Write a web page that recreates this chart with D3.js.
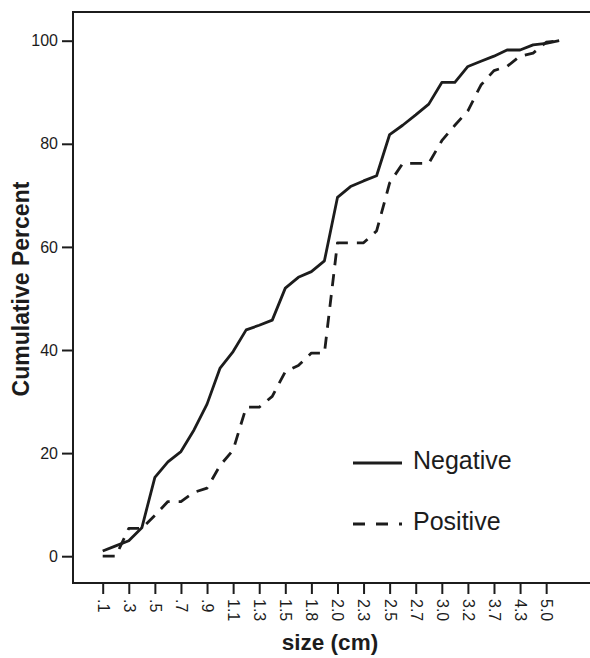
<!DOCTYPE html>
<html>
<head>
<meta charset="utf-8">
<script src="https://cdn.jsdelivr.net/npm/d3@7"></script>
<style>
  body { margin: 0; background: #fff; }
  svg { display: block; font-family: "Liberation Sans", Arial, sans-serif; }
</style>
</head>
<body>
<div id="chart"></div>
<script>
// lesion sizes (cm), one point per size; every other one is labelled
var sizes = [".1", ".2", ".3", ".4", ".5", ".6", ".7", ".8", ".9", "1.0",
  "1.1", "1.2", "1.3", "1.4", "1.5", "1.6", "1.8", "1.9", "2.0", "2.2",
  "2.3", "2.4", "2.5", "2.6", "2.7", "2.8", "3.0", "3.1", "3.2", "3.5",
  "3.7", "4.0", "4.3", "4.5", "5.0", "5.5"];
var tickLabels = [".1", ".3", ".5", ".7", ".9", "1.1", "1.3", "1.5", "1.8", "2.0",
  "2.3", "2.5", "2.7", "3.0", "3.2", "3.7", "4.3", "5.0"];
var yTicks = [0, 20, 40, 60, 80, 100];

var negative = [1, 2, 3, 5.5, 15.3, 18.3, 20.3, 24.5, 29.5, 36.5,
  39.7, 43.9, 44.8, 45.8, 52, 54.1, 55.2, 57.3, 69.6, 71.7,
  72.8, 73.8, 81.8, 83.6, 85.6, 87.7, 91.9, 91.9, 95, 96,
  97, 98.2, 98.2, 99.2, 99.5, 100];
var positive = [0, 0, 5.4, 5.4, 7.9, 10.6, 10.6, 12.4, 13.2, 17.6,
  20.6, 28.9, 28.9, 31, 35.8, 37, 39.4, 39.4, 60.8, 60.8,
  60.8, 63.1, 72.4, 76.2, 76.2, 76.2, 80.6, 83.6, 86.4, 91.4,
  94.2, 95, 97, 97.6, 99.7, 100];

var width = 590, height = 658;
var frameLeft = 73, frameTop = 12, frameBottom = 583, frameRight = 590;
var ink = "#1c1c1c";

var svg = d3.select("#chart").append("svg")
  .attr("width", width)
  .attr("height", height);

var x = d3.scalePoint()
  .domain(sizes)
  .range([102.7, 559.2]);

var y = d3.scaleLinear()
  .domain([0, 100])
  .range([556.2, 40.7]);

// frame: left, top and bottom lines
svg.append("path")
  .attr("d", "M" + frameRight + "," + frameTop + "H" + frameLeft + "V" + frameBottom + "H" + frameRight)
  .attr("fill", "none")
  .attr("stroke", ink)
  .attr("stroke-width", 2);

var yAxis = svg.append("g")
  .attr("transform", "translate(" + frameLeft + ",0)")
  .call(d3.axisLeft(y).tickValues(yTicks).tickSize(11).tickPadding(4));
yAxis.select(".domain").remove();
yAxis.selectAll(".tick line").attr("stroke", ink).attr("stroke-width", 2);
yAxis.selectAll(".tick text")
  .attr("fill", ink)
  .style("font-size", "16px");

var xAxis = svg.append("g")
  .attr("transform", "translate(0," + frameBottom + ")")
  .call(d3.axisBottom(x)
    .tickValues(sizes.filter(function(d) { return tickLabels.indexOf(d) >= 0; }))
    .tickSize(11));
xAxis.select(".domain").remove();
xAxis.selectAll(".tick line").attr("stroke", ink).attr("stroke-width", 2);
xAxis.selectAll(".tick text")
  .attr("fill", ink)
  .style("font-size", "16px")
  .attr("transform", "rotate(90)")
  .attr("x", 16)
  .attr("y", 0)
  .attr("dy", "0.35em")
  .attr("text-anchor", "start");

svg.append("text")
  .attr("transform", "translate(29,289) rotate(-90)")
  .attr("text-anchor", "middle")
  .attr("font-weight", "bold")
  .attr("font-size", 23)
  .attr("fill", ink)
  .text("Cumulative Percent");

svg.append("text")
  .attr("x", 330)
  .attr("y", 650)
  .attr("text-anchor", "middle")
  .attr("font-weight", "bold")
  .attr("font-size", 22.5)
  .attr("fill", ink)
  .text("size (cm)");

var line = d3.line()
  .x(function(d, i) { return x(sizes[i]); })
  .y(function(d) { return y(d); });

var series = [
  { name: "Negative", values: negative, dash: null },
  { name: "Positive", values: positive, dash: "12,9" }
];

svg.selectAll(".series")
  .data(series)
  .enter()
  .append("path")
  .attr("class", "series")
  .attr("d", function(d) { return line(d.values); })
  .attr("fill", "none")
  .attr("stroke", ink)
  .attr("stroke-width", 2.8)
  .attr("stroke-linejoin", "round")
  .attr("stroke-dasharray", function(d) { return d.dash; });

// legend
var legend = svg.selectAll(".legend")
  .data(series)
  .enter()
  .append("g")
  .attr("class", "legend")
  .attr("transform", function(d, i) { return "translate(353," + (463 + i * 61) + ")"; });

legend.append("line")
  .attr("x1", 0)
  .attr("x2", 49)
  .attr("stroke", ink)
  .attr("stroke-width", 2.8)
  .attr("stroke-dasharray", function(d) { return d.dash ? "12,11" : null; });

legend.append("text")
  .attr("x", 60)
  .attr("y", 6)
  .attr("font-size", 25)
  .attr("fill", ink)
  .text(function(d) { return d.name; });
</script>
</body>
</html>
